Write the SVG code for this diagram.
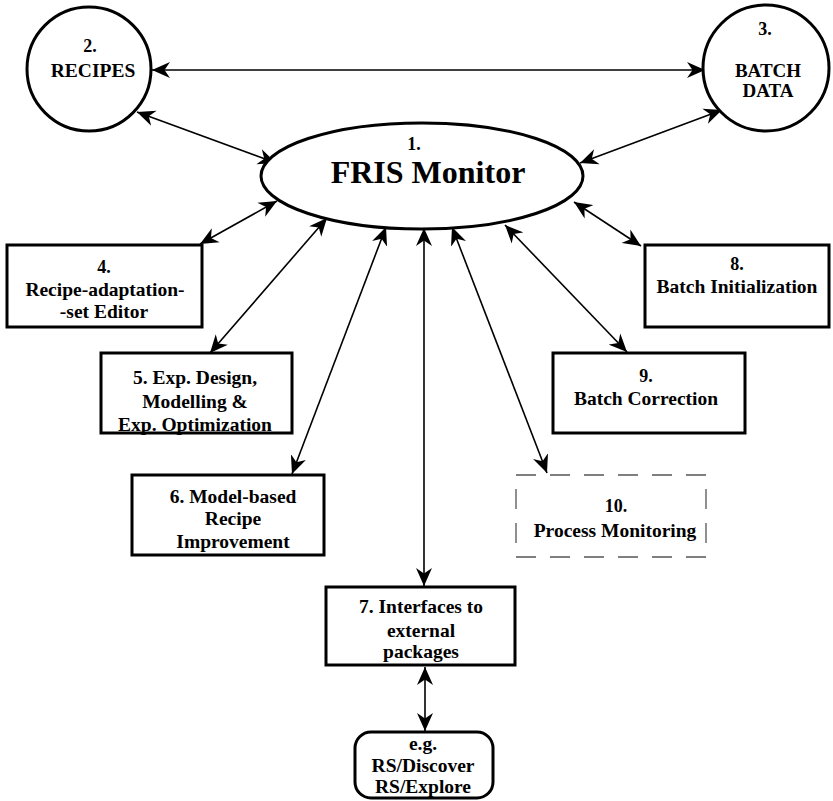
<svg xmlns="http://www.w3.org/2000/svg" width="833" height="801" viewBox="0 0 833 801">
  <style>
    .node { fill: #fff; stroke: #000; stroke-width: 3; }
    .dash { fill: #fff; stroke: #555; stroke-width: 1.3; stroke-dasharray: 20 14; }
    .lbl { font-family: 'Liberation Serif', 'Times New Roman', 'DejaVu Serif', serif; font-weight: bold; font-size: 19.5px; fill: #000; text-anchor: middle; }
    .big { font-size: 32px; }
    .num { font-size: 18px; }
    .link { fill: none; stroke: #000; stroke-width: 1.6; marker-start: url(#head); marker-end: url(#head); }
  </style>
  <defs>
    <marker id="head" viewBox="0 0 19 17" refX="18" refY="8.5" markerWidth="19" markerHeight="17" markerUnits="userSpaceOnUse" orient="auto-start-reverse">
      <path d="M18,8.5 L0,0.5 L5.5,8.5 L0,16.5 Z" fill="#000"/>
    </marker>
  </defs>

  <rect width="833" height="801" fill="#fff"/>

  <g id="connectors">
    <line class="link" x1="152" y1="70" x2="705" y2="70"/>
    <line class="link" x1="137" y1="112" x2="276" y2="163"/>
    <line class="link" x1="722" y1="110" x2="580" y2="163"/>
    <line class="link" x1="277" y1="201" x2="200" y2="244"/>
    <line class="link" x1="327" y1="218" x2="210" y2="353"/>
    <line class="link" x1="386" y1="227" x2="292" y2="474"/>
    <line class="link" x1="424" y1="228" x2="424" y2="586"/>
    <line class="link" x1="452" y1="227" x2="547" y2="473"/>
    <line class="link" x1="505" y1="225" x2="627" y2="352"/>
    <line class="link" x1="574" y1="202" x2="641" y2="246"/>
    <line class="link" x1="425" y1="667" x2="425" y2="731"/>
  </g>

  <g font-family="Liberation Serif, Times New Roman, serif">
  <g id="n1">
    <ellipse class="node" cx="422" cy="176" rx="161" ry="53"/>
    <text class="lbl num" x="414" y="150">1.</text>
    <text class="lbl big" x="428" y="183">FRIS Monitor</text>
  </g>

  <g id="n2">
    <circle class="node" cx="89" cy="69" r="62"/>
    <text class="lbl num" x="90" y="52">2.</text>
    <text class="lbl" x="93" y="77">RECIPES</text>
  </g>

  <g id="n3">
    <circle class="node" cx="766" cy="68" r="63"/>
    <text class="lbl num" x="765" y="35">3.</text>
    <text class="lbl" x="768" y="77" style="font-size:19px">BATCH</text>
    <text class="lbl" x="768" y="97" style="font-size:19px">DATA</text>
  </g>

  <g id="n4">
    <rect class="node" x="7" y="245" width="195" height="82"/>
    <text class="lbl num" x="104" y="273">4.</text>
    <text class="lbl" x="105" y="296">Recipe-adaptation-</text>
    <text class="lbl" x="104" y="318">-set Editor</text>
  </g>

  <g id="n5">
    <rect class="node" x="101" y="353" width="191" height="80"/>
    <text class="lbl" x="195" y="384">5. Exp. Design,</text>
    <text class="lbl" x="195" y="408">Modelling &amp;</text>
    <text class="lbl" x="195" y="431">Exp. Optimization</text>
  </g>

  <g id="n6">
    <rect class="node" x="132" y="475" width="192" height="80"/>
    <text class="lbl" x="233" y="503">6. Model-based</text>
    <text class="lbl" x="233" y="525">Recipe</text>
    <text class="lbl" x="233" y="548">Improvement</text>
  </g>

  <g id="n7">
    <rect class="node" x="326" y="587" width="189" height="78"/>
    <text class="lbl" x="421" y="613">7. Interfaces to</text>
    <text class="lbl" x="421" y="637">external</text>
    <text class="lbl" x="421" y="658">packages</text>
  </g>

  <g id="n7ext">
    <rect class="node" x="355" y="732" width="138" height="66" rx="16" ry="16"/>
    <text class="lbl" x="423" y="750">e.g.</text>
    <text class="lbl" x="423" y="772">RS/Discover</text>
    <text class="lbl" x="423" y="793">RS/Explore</text>
  </g>

  <g id="n8">
    <rect class="node" x="645" y="245" width="184" height="82"/>
    <text class="lbl num" x="737" y="270">8.</text>
    <text class="lbl" x="737" y="293">Batch Initialization</text>
  </g>

  <g id="n9">
    <rect class="node" x="553" y="353" width="192" height="80"/>
    <text class="lbl num" x="646" y="382">9.</text>
    <text class="lbl" x="646" y="405">Batch Correction</text>
  </g>

  <g id="n10">
    <rect class="dash" x="516" y="475" width="190" height="82"/>
    <text class="lbl num" x="616" y="512">10.</text>
    <text class="lbl" x="615" y="537">Process Monitoring</text>
  </g>
  </g>
</svg>
